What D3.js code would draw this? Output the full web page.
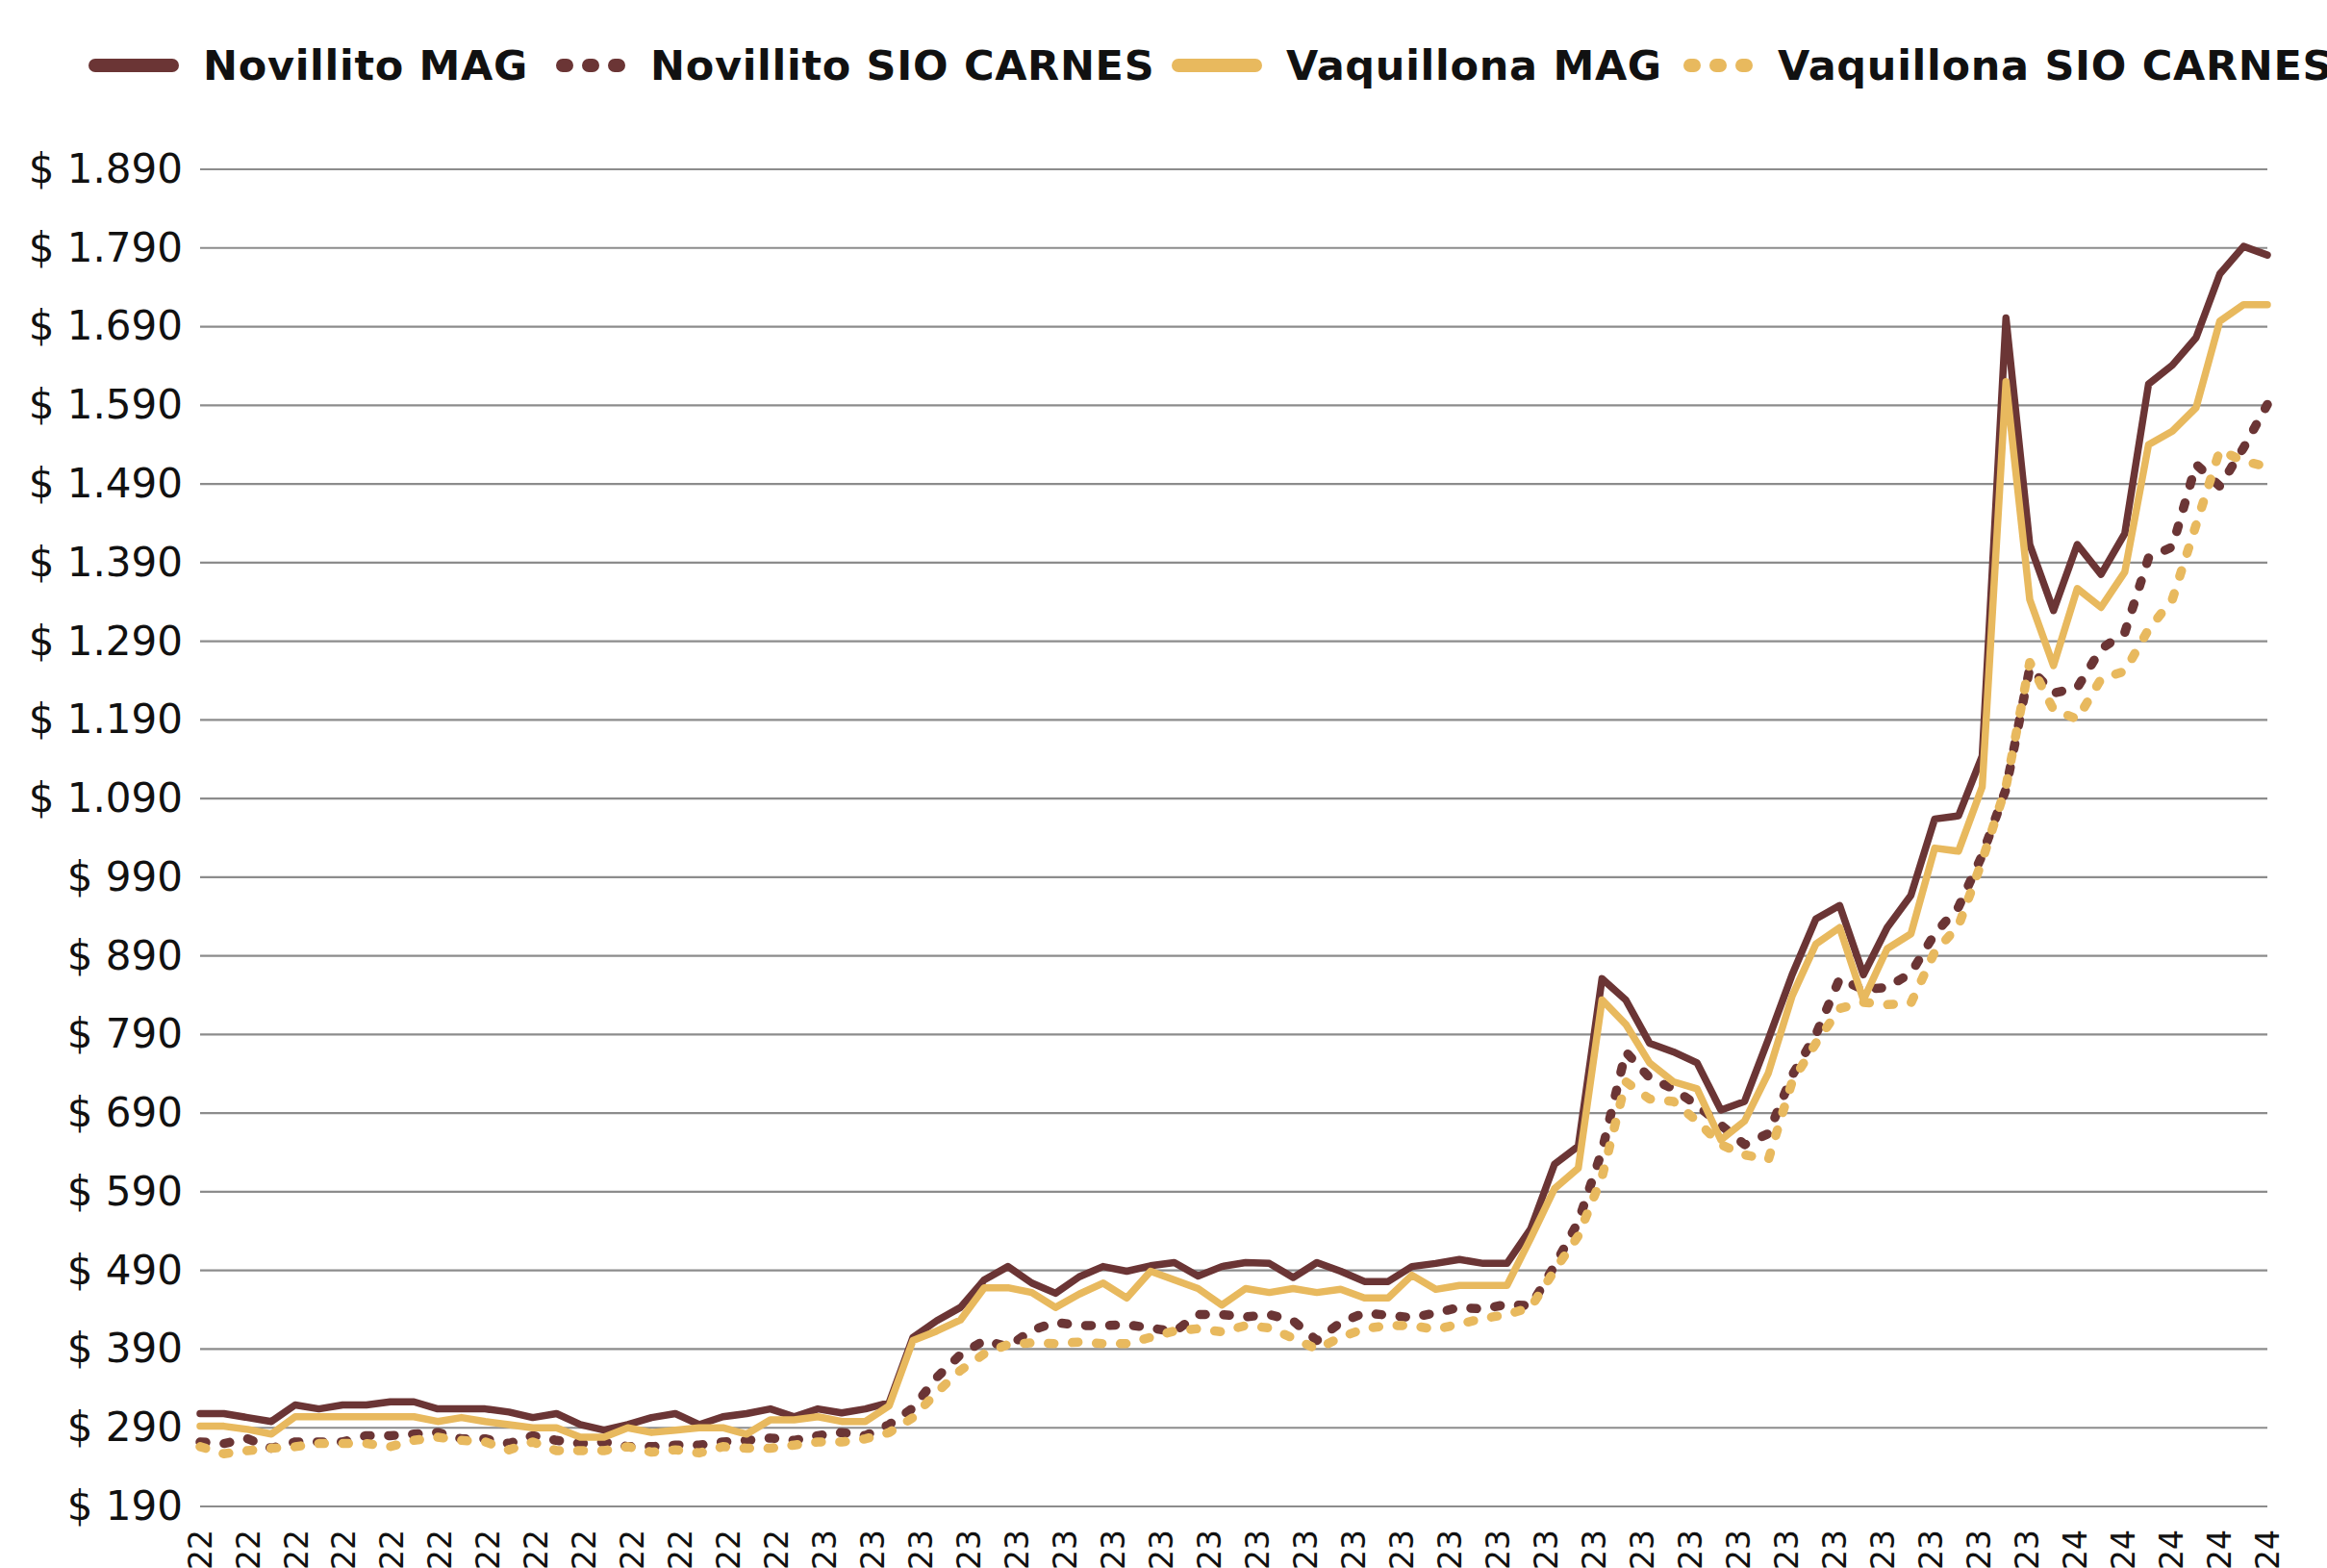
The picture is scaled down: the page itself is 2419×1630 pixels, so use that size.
<!DOCTYPE html>
<html>
<head>
<meta charset="utf-8">
<script src="https://cdn.jsdelivr.net/npm/d3@7"></script>
<style>
  body { margin: 0; background: #fff }
  svg { display: block }
</style>
</head>
<body>
<svg id="chart"></svg>
<script>
// precio semanal por kg, jul 2022 - mar 2024
const novilloMag = [
  308, 308, 303, 298, 319, 314, 319, 319, 323, 323,
  314, 314, 314, 310, 303, 308, 294, 287, 294, 303,
  308, 294, 304, 308, 314, 304, 314, 309, 314, 322,
  405, 426, 443, 478, 495, 474, 461, 482, 495, 489,
  496, 500, 483, 495, 500, 499, 481, 500, 489, 476,
  476, 495, 499, 504, 499, 499, 543, 625, 648, 861,
  834, 779, 768, 754, 694, 705, 784, 866, 937, 954,
  866, 926, 967, 1064, 1068, 1144, 1701, 1413, 1329, 1413,
  1375, 1427, 1617, 1641, 1676, 1757, 1792, 1781
]
const novilloSio = [
  272, 270, 276, 264, 272, 272, 272, 280, 280, 282,
  284, 276, 276, 270, 280, 274, 270, 272, 266, 266,
  268, 268, 272, 274, 277, 274, 280, 284, 280, 294,
  315, 354, 383, 401, 393, 414, 424, 420, 420, 421,
  417, 412, 434, 434, 431, 434, 426, 401, 424, 436,
  433, 430, 436, 443, 441, 447, 445, 496, 552, 642,
  768, 735, 721, 700, 675, 650, 664, 738, 790, 861,
  847, 850, 868, 918, 952, 1018, 1102, 1256, 1224, 1231,
  1280, 1301, 1396, 1410, 1515, 1487, 1536, 1591
]
const vaquillonaMag = [
  292, 292, 288, 282, 304, 304, 304, 304, 304, 304,
  298, 303, 298, 294, 290, 290, 278, 278, 290, 284,
  287, 290, 290, 282, 300, 300, 304, 298, 298, 318,
  401, 413, 427, 468, 468, 462, 443, 460, 474, 455,
  489, 478, 467, 446, 467, 462, 467, 462, 466, 455,
  455, 484, 466, 471, 471, 471, 531, 594, 620, 834,
  803, 754, 730, 721, 656, 680, 741, 839, 905, 926,
  834, 899, 918, 1027, 1023, 1105, 1620, 1343, 1259, 1357,
  1333, 1378, 1540, 1557, 1587, 1697, 1718, 1718
]
const vaquillonaSio = [
  266, 257, 261, 264, 266, 270, 270, 270, 266, 274,
  278, 274, 272, 262, 272, 261, 261, 261, 266, 259,
  262, 258, 266, 264, 264, 268, 272, 272, 276, 284,
  303, 335, 363, 384, 396, 398, 397, 399, 397, 397,
  405, 413, 416, 412, 420, 417, 404, 390, 405, 416,
  420, 420, 415, 422, 429, 434, 443, 490, 534, 609,
  730, 708, 705, 680, 650, 637, 631, 730, 779, 823,
  831, 828, 830, 895, 928, 1011, 1105, 1263, 1203, 1191,
  1242, 1252, 1305, 1343, 1438, 1533, 1519, 1512
]

const dateLabels = [
  '08/07/22', '22/07/22', '05/08/22', '19/08/22', '02/09/22', '16/09/22', '30/09/22',
  '14/10/22', '28/10/22', '11/11/22', '25/11/22', '09/12/22', '23/12/22',
  '06/01/23', '20/01/23', '03/02/23', '17/02/23', '03/03/23', '17/03/23', '31/03/23',
  '14/04/23', '28/04/23', '12/05/23', '26/05/23', '09/06/23', '23/06/23', '07/07/23',
  '21/07/23', '04/08/23', '18/08/23', '01/09/23', '15/09/23', '29/09/23', '13/10/23',
  '27/10/23', '10/11/23', '24/11/23', '08/12/23', '22/12/23',
  '05/01/24', '19/01/24', '02/02/24', '16/02/24', '01/03/24'
]
const yTicks = [190, 290, 390, 490, 590, 690, 790, 890, 990, 1090, 1190, 1290, 1390, 1490, 1590, 1690, 1790, 1890]

const series = [
  { name: 'Novillito MAG', values: novilloMag, color: '#6b3535', dotted: false },
  { name: 'Novillito SIO CARNES', values: novilloSio, color: '#6b3535', dotted: true },
  { name: 'Vaquillona MAG', values: vaquillonaMag, color: '#e8b95e', dotted: false },
  { name: 'Vaquillona SIO CARNES', values: vaquillonaSio, color: '#e8b95e', dotted: true }
]
const legendPos = [93, 580, 1219, 1752]

const width = 2419
const height = 1630
const margin = { top: 176, right: 62, bottom: 64, left: 208 }
const font = 'DejaVu Sans, sans-serif'

const svg = d3.select('#chart')
  .attr('width', width)
  .attr('height', height)
  .style('font-family', font)

const locale = d3.formatLocale({ decimal: ',', thousands: '.', grouping: [3], currency: ['$ ', ''] })
const money = locale.format('$,')

const x = d3.scalePoint()
  .domain(d3.range(novilloMag.length))
  .range([margin.left, width - margin.right])

const xLabel = d3.scalePoint()
  .domain(dateLabels)
  .range([margin.left, width - margin.right])

const y = d3.scaleLinear()
  .domain([190, 1890])
  .range([height - margin.bottom, margin.top])

// grid
svg.append('g')
  .selectAll('line')
  .data(yTicks)
  .join('line')
  .attr('x1', margin.left)
  .attr('x2', width - margin.right)
  .attr('y1', d => y(d))
  .attr('y2', d => y(d))
  .attr('stroke', '#8c8c8c')
  .attr('stroke-width', 2.2)

// y axis
svg.append('g')
  .attr('transform', `translate(${margin.left},0)`)
  .call(d3.axisLeft(y).tickValues(yTicks).tickFormat(money).tickSize(0).tickPadding(18))
  .call(g => g.select('.domain').remove())
  .call(g => g.selectAll('text')
    .attr('font-size', 42)
    .attr('font-family', font)
    .attr('fill', '#111'))

// x labels (rotated, cut by the bottom edge like the original)
svg.append('g')
  .selectAll('text')
  .data(dateLabels)
  .join('text')
  .attr('transform', d => `translate(${xLabel(d)},${height - margin.bottom + 24}) rotate(-90)`)
  .attr('text-anchor', 'end')
  .attr('dy', '0.35em')
  .attr('font-size', 33)
  .attr('fill', '#111')
  .text(d => d)

const line = d3.line()
  .x((d, i) => x(i))
  .y(d => y(d))

svg.append('g')
  .selectAll('path')
  .data(series)
  .join('path')
  .attr('d', d => line(d.values))
  .attr('fill', 'none')
  .attr('stroke', d => d.color)
  .attr('stroke-width', d => d.dotted ? 9.5 : 7.5)
  .attr('stroke-linejoin', 'round')
  .attr('stroke-linecap', 'round')
  .attr('stroke-dasharray', d => d.dotted ? '6 19' : null)

// legend
const legend = svg.append('g')
  .selectAll('g')
  .data(series)
  .join('g')
  .attr('transform', (d, i) => `translate(${legendPos[i]},68)`)

legend.append('line')
  .attr('x1', d => d.dotted ? 5 : 6)
  .attr('x2', d => d.dotted ? 63 : 86)
  .attr('stroke', d => d.color)
  .attr('stroke-width', 14)
  .attr('stroke-linecap', 'round')
  .attr('stroke-dasharray', d => d.dotted ? '4 23' : null)

legend.append('text')
  .attr('x', d => d.dotted ? 96 : 118)
  .attr('y', 15)
  .attr('font-size', 43)
  .attr('font-weight', 'bold')
  .attr('letter-spacing', 0.7)
  .attr('fill', '#111')
  .text(d => d.name)
</script>
</body>
</html>
